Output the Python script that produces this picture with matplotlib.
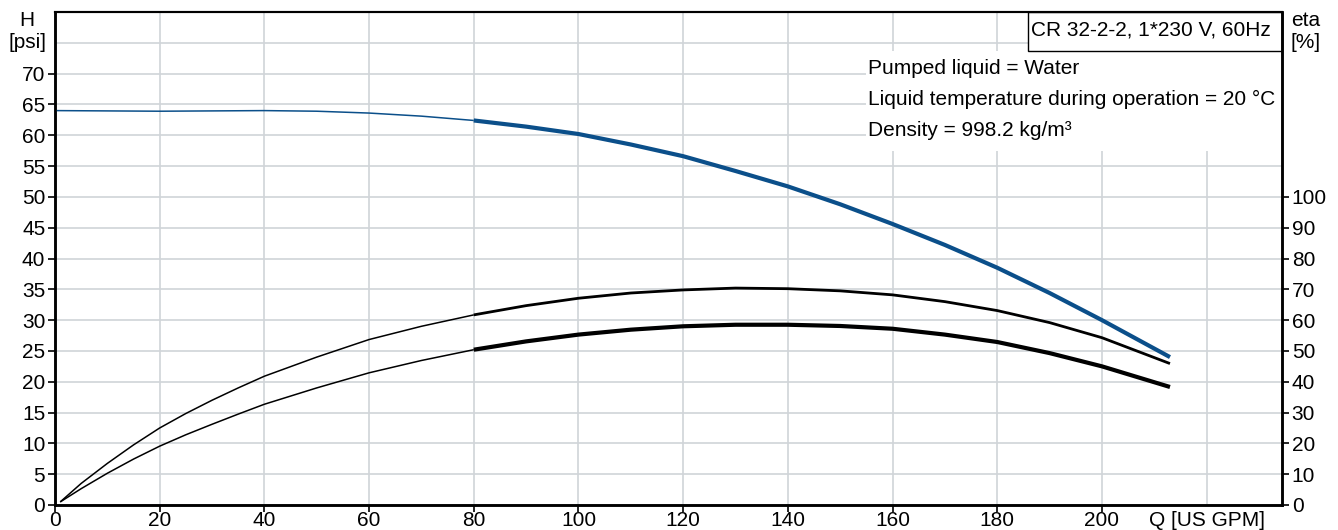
import matplotlib
matplotlib.use("Agg")
import matplotlib.pyplot as plt
import numpy as np
from matplotlib.patches import Rectangle

plt.rcParams['font.family'] = ['Liberation Sans', 'DejaVu Sans']

# ---- data ----
q_head = [0, 20, 40, 50, 60, 70, 80, 90, 100, 110, 120, 130, 140, 150, 160, 170, 180, 190, 200, 213]
head_psi = [64.0, 63.9, 64.0, 63.9, 63.6, 63.1, 62.4, 61.4, 60.2, 58.5, 56.6, 54.2, 51.7, 48.8, 45.6, 42.2, 38.5, 34.4, 30.0, 24.0]

q_eta = [1, 5, 10, 15, 20, 25, 30, 35, 40, 50, 60, 70, 80, 90, 100, 110, 120, 130, 140, 150, 160, 170, 180, 190, 200, 213]
eta_upper = [1, 7.0, 13.5, 19.5, 25.0, 29.7, 34.0, 38.0, 41.8, 48.0, 53.7, 58.0, 61.7, 64.7, 67.1, 68.8, 69.8, 70.4, 70.2, 69.5, 68.2, 66.0, 63.1, 59.2, 54.3, 45.9]
eta_lower = [1, 5.3, 10.3, 14.9, 19.1, 22.8, 26.2, 29.5, 32.7, 38.0, 42.9, 46.9, 50.4, 53.1, 55.3, 56.9, 58.0, 58.5, 58.5, 58.1, 57.2, 55.3, 52.9, 49.3, 45.0, 38.3]

q_split = 80  # thin below, thick above
x_ticks = [0, 20, 40, 60, 80, 100, 120, 140, 160, 180, 200]
h_ticks = [0, 5, 10, 15, 20, 25, 30, 35, 40, 45, 50, 55, 60, 65, 70]
eta_ticks = [0, 10, 20, 30, 40, 50, 60, 70, 80, 90, 100]

title_text = "CR 32-2-2, 1*230 V, 60Hz"
info_lines = ["Pumped liquid = Water",
              "Liquid temperature during operation = 20 °C",
              "Density = 998.2 kg/m³"]

BLUE = '#0b4f8a'
GRID = '#d0d4d8'
FS = 15

fig = plt.figure(figsize=(13.38, 5.30), dpi=100)
ax = fig.add_axes([55/1338, 25/530, (1282-55)/1338, (505-12)/530])
ax2 = ax.twinx()

XMAX = 234.4
ax.set_xlim(0, XMAX)
ax.set_ylim(0, 80)
ax2.set_ylim(0, 160)

# grid
for gx in x_ticks + [220]:
    ax.axvline(gx, color=GRID, lw=1.2, zorder=0)
for gy in h_ticks + [75]:
    ax.axhline(gy, color=GRID, lw=1.2, zorder=0)

# white area behind info text
ax.add_patch(Rectangle((155, 57.4), XMAX - 155, 73.6 - 57.4, facecolor='white',
                       edgecolor='none', zorder=1))
# title box
ax.add_patch(Rectangle((185.9, 73.6), XMAX - 185.9, 80 - 73.6, facecolor='white',
                       edgecolor='black', lw=1.0, zorder=1, clip_on=False))
ax.text(186.4, 77.0, title_text, fontsize=FS, va='center', ha='left', zorder=3)
for i, line in enumerate(info_lines):
    ax.text(155.3, 70.9 - i * 5.05, line, fontsize=FS, va='center', ha='left', zorder=3)

# head curve
qh = np.array(q_head); hh = np.array(head_psi)
m1 = qh <= q_split; m2 = qh >= q_split
ax.plot(qh[m1], hh[m1], color=BLUE, lw=1.1, zorder=4, solid_capstyle='butt')
ax.plot(qh[m2], hh[m2], color=BLUE, lw=3.0, zorder=4, solid_capstyle='butt')

# efficiency curves
qe = np.array(q_eta)
e1 = np.array(eta_upper); e2 = np.array(eta_lower)
n1 = qe <= q_split; n2 = qe >= q_split
ax2.plot(qe[n1], e1[n1], color='black', lw=1.1, zorder=4, solid_capstyle='butt')
ax2.plot(qe[n2], e1[n2], color='black', lw=2.0, zorder=4, solid_capstyle='butt')
ax2.plot(qe[n1], e2[n1], color='black', lw=1.1, zorder=4, solid_capstyle='butt')
ax2.plot(qe[n2], e2[n2], color='black', lw=3.0, zorder=4, solid_capstyle='butt')

# ticks
ax.set_xticks(x_ticks + [220])
ax.set_xticklabels([str(v) for v in x_ticks] + ["Q [US GPM]"], fontsize=FS)
ax.set_yticks(h_ticks)
ax.set_yticklabels([str(v) for v in h_ticks], fontsize=FS)
ax2.set_yticks(eta_ticks)
ax2.set_yticklabels([str(v) for v in eta_ticks], fontsize=FS)
ax.tick_params(axis='x', length=5, width=1.2, pad=-1, direction='out')
ax.tick_params(axis='y', length=5, width=1.2, pad=2, direction='out')
ax2.tick_params(axis='y', length=5, width=1.2, pad=2, direction='out')
# hide tick mark for Q label
ax.xaxis.get_major_ticks()[-1].tick1line.set_visible(False)

for a in (ax, ax2):
    for s in ('left', 'bottom', 'right'):
        a.spines[s].set_linewidth(1.8)
        a.spines[s].set_color('black')
    a.spines['top'].set_linewidth(1.5)
ax2.patch.set_visible(False)
ax.set_zorder(1); ax2.set_zorder(2)

# axis unit labels
fig.text(27/1338, 1 - 20/530, "H", fontsize=FS, ha='center', va='center')
fig.text(27/1338, 1 - 42/530, "[psi]", fontsize=FS, ha='center', va='center')
fig.text(1306/1338, 1 - 20/530, "eta", fontsize=FS, ha='center', va='center')
fig.text(1306/1338, 1 - 42/530, "[%]", fontsize=FS, ha='center', va='center')

fig.savefig("out.png", dpi=100)
